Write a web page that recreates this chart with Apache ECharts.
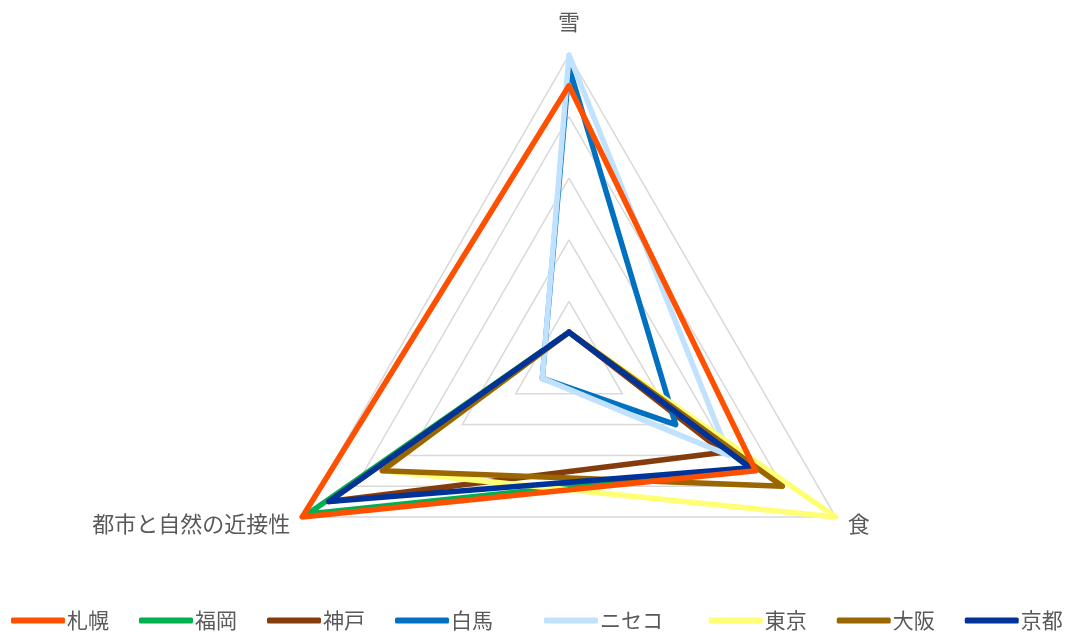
<!DOCTYPE html>
<html>
<head>
<meta charset="utf-8">
<script src="https://cdn.jsdelivr.net/npm/echarts@6/dist/echarts.min.js"></script>
<style>
html,body{margin:0;padding:0;background:#fff;}
#chart{width:1090px;height:637px;}
</style>
</head>
<body>
<div id="chart"></div>
<script>
// Indicators (axes), clockwise from top
const indicators = ['雪', '食', '都市と自然の近接性'];
// Series names (legend order)
const names = ['札幌', '福岡', '神戸', '白馬', 'ニセコ', '東京', '大阪', '京都'];
// Values per indicator: [雪, 食, 都市と自然の近接性]
const sapporo = [4.5, 3.5, 5.0];
const fukuoka = [0.5, 3.4, 4.9];
const kobe    = [0.5, 2.9, 4.5];
const hakuba  = [4.8, 2.0, 0.5];
const niseko  = [5.0, 3.0, 0.5];
const tokyo   = [0.5, 5.0, 3.5];
const osaka   = [0.5, 4.0, 3.5];
const kyoto   = [0.5, 3.4, 4.5];
const values = [sapporo, fukuoka, kobe, hakuba, niseko, tokyo, osaka, kyoto];
const colors = ['#FF5000', '#00B050', '#843C0C', '#0070C0', '#C0E2FF', '#FFFF75', '#996600', '#003399'];

// ECharts lays indicators counter-clockwise; reverse the non-top ones to get clockwise order
const axisOrder = [0, 2, 1];
const drawOrder = [1, 2, 3, 4, 5, 6, 7, 0]; // 札幌 drawn on top
const seriesData = drawOrder.map(i => ({
  name: names[i],
  value: axisOrder.map(k => values[i][k]),
  lineStyle: { color: colors[i], width: 5.5, join: 'round', cap: 'round' },
  itemStyle: { color: colors[i] }
}));

const chart = echarts.init(document.getElementById('chart'));
chart.setOption({
  animation: false,
  legend: {
    data: names,
    bottom: 1,
    left: 6,
    itemWidth: 54,
    itemHeight: 6,
    itemGap: 30,
    icon: 'roundRect',
    formatter: function (n) {
      if (n === '白馬') return n + '\u3000';
      if (n === 'ニセコ') return n + '\u2002\u2005';
      return n;
    },
    textStyle: { color: '#595959', fontSize: 21, fontFamily: 'Noto Sans CJK JP', padding: [0, 0, 0, -3] }
  },
  radar: {
    center: [569, 363],
    radius: 308,
    shape: 'polygon',
    splitNumber: 5,
    indicator: axisOrder.map(k => ({ name: indicators[k], min: 0, max: 5 })),
    nameGap: 14,
    axisName: {
      color: '#595959',
      fontSize: 22,
      fontFamily: 'Noto Sans CJK JP',
      formatter: function (n) { return n === '雪' ? '{top|' + n + '}' : n; },
      rich: { top: { fontSize: 22, color: '#595959', fontFamily: 'Noto Sans CJK JP', padding: [0, 0, 8, 0] } }
    },
    axisLine: { show: false },
    splitArea: { show: false },
    splitLine: { lineStyle: { color: '#D9D9D9', width: 1.5 } }
  },
  series: [{
    type: 'radar',
    symbol: 'none',
    data: seriesData
  }]
});
</script>
</body>
</html>
